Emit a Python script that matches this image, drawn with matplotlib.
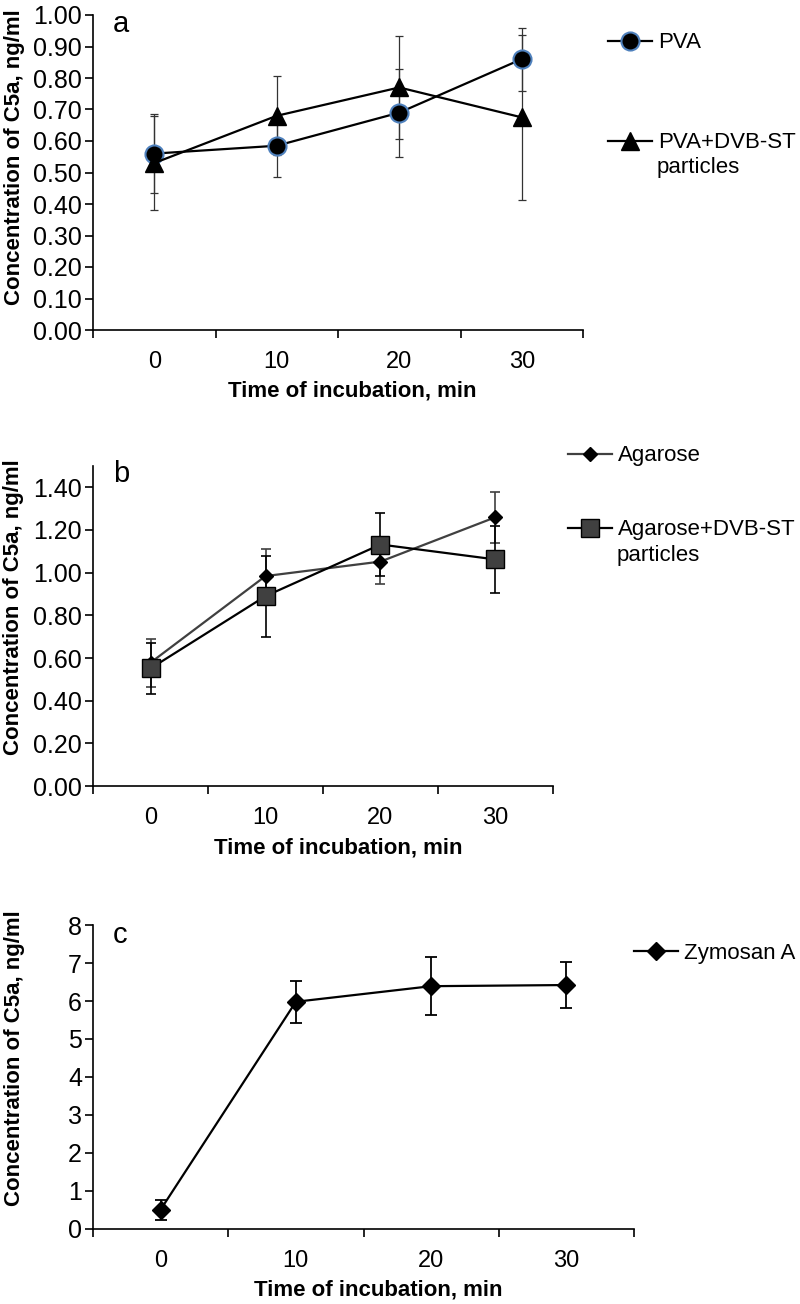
import matplotlib.pyplot as plt
import numpy as np

plt.rcParams['font.family'] = ['Liberation Sans', 'DejaVu Sans']

# data
times = ['0', '10', '20', '30']

pva = [0.56, 0.585, 0.69, 0.86]
pva_err = [0.125, 0.098, 0.14, 0.10]
pva_dvb = [0.53, 0.68, 0.77, 0.675]
pva_dvb_err = [0.15, 0.125, 0.163, 0.262]

agarose = [0.578, 0.984, 1.052, 1.26]
agarose_err = [0.112, 0.125, 0.105, 0.12]
agarose_dvb = [0.551, 0.89, 1.132, 1.062]
agarose_dvb_err = [0.12, 0.19, 0.148, 0.157]

zymosan = [0.51, 5.98, 6.39, 6.42]
zymosan_err = [0.26, 0.55, 0.77, 0.60]

W, H = 800, 1304
fig = plt.figure(figsize=(W / 100, H / 100), dpi=100)


def px_axes(left, right, top, bottom):
    return fig.add_axes([left / W, 1 - bottom / H, (right - left) / W, (bottom - top) / H])


def style_axes(ax, ylim, yticks, fmt, ylab_x, ylab_y):
    x = np.arange(len(times))
    ax.set_xlim(-0.5, len(times) - 0.5)
    ax.set_ylim(*ylim)
    ax.set_yticks(yticks)
    ax.set_yticklabels([fmt % v for v in yticks])
    ax.set_xticks(x)
    ax.set_xticklabels(times)
    ax.set_xticks(np.arange(len(times) + 1) - 0.5, minor=True)
    ax.tick_params(axis='x', which='major', length=0, pad=15, labelsize=17)
    ax.tick_params(axis='x', which='minor', length=6, width=1.2, direction='out')
    ax.tick_params(axis='y', length=6, width=1.2, pad=2, labelsize=18)
    for s in ['top', 'right']:
        ax.spines[s].set_visible(False)
    for s in ['left', 'bottom']:
        ax.spines[s].set_linewidth(1.2)
    ax.set_xlabel('Time of incubation, min', fontsize=16, fontweight='bold')
    ax.xaxis.label.set_va('center')
    ax.set_ylabel('Concentration of C5a, ng/ml', fontsize=16, fontweight='bold')
    ax.yaxis.label.set_va('center')
    ax.yaxis.set_label_coords(ylab_x, ylab_y)
    return x


def add_entry(handle, label, x_px, y_px, extra=None):
    leg = fig.legend([handle], [label], loc='center left',
                     bbox_to_anchor=(x_px / W, 1 - y_px / H), frameon=False,
                     borderpad=0, borderaxespad=0, handlelength=2.0,
                     handletextpad=0.25, fontsize=16)
    if extra:
        # second line of the label, under the first one
        fig.text((x_px + 49) / W, 1 - (y_px + 25) / H, extra, fontsize=16,
                 ha='left', va='center')
    return leg


# panel a
ax = px_axes(93, 583, 15, 330)
x = style_axes(ax, (0, 1.0), np.arange(0, 1.01, 0.1), '%.2f', -0.161, 0.549)
ax.xaxis.set_label_coords(0.529, -61 / 315)
ax.errorbar(x, pva, yerr=pva_err, fmt='none', ecolor='#333333', elinewidth=0.9,
            capsize=3.2, capthick=0.9, zorder=2)
ax.errorbar(x, pva_dvb, yerr=pva_dvb_err, fmt='none', ecolor='#333333', elinewidth=0.9,
            capsize=3.2, capthick=0.9, zorder=2)
h_pva, = ax.plot(x, pva, color='black', lw=1.6, marker='o', ms=13,
                 mfc='black', mec='#4F81BD', mew=1.5, zorder=3)
h_pvad, = ax.plot(x, pva_dvb, color='black', lw=1.6, marker='^', ms=13,
                  mfc='black', mec='black', zorder=3)
ax.text(0.041, 0.947, 'a', transform=ax.transAxes, fontsize=21, ha='left', va='baseline')
add_entry(h_pva, 'PVA', 608, 43)
add_entry(h_pvad, 'PVA+DVB-ST', 608, 143, 'particles')

# panel b
ax = px_axes(93, 553, 466, 786)
x = style_axes(ax, (0, 1.5), np.arange(0, 1.41, 0.2), '%.2f', -0.172, 0.559)
ax.xaxis.set_label_coords(0.533, -62 / 320)
ax.errorbar(x, agarose, yerr=agarose_err, fmt='none', ecolor='#404040', elinewidth=1.2,
            capsize=3.6, capthick=1.2, zorder=2)
ax.errorbar(x, agarose_dvb, yerr=agarose_dvb_err, fmt='none', ecolor='black', elinewidth=1.2,
            capsize=3.6, capthick=1.2, zorder=2)
h_ag, = ax.plot(x, agarose, color='#404040', lw=1.6, marker='D', ms=7,
                mfc='black', mec='black', zorder=3)
h_agd, = ax.plot(x, agarose_dvb, color='black', lw=1.6, marker='s', ms=12.5,
                 mfc='#404040', mec='black', mew=1.0, zorder=4)
ax.text(0.043, 0.951, 'b', transform=ax.transAxes, fontsize=21, ha='left', va='baseline')
add_entry(h_ag, 'Agarose', 568, 456)
add_entry(h_agd, 'Agarose+DVB-ST', 568, 530, 'particles')

# panel c
ax = px_axes(93, 634, 925, 1229)
x = style_axes(ax, (0, 8), np.arange(0, 9, 1), '%d', -0.146, 0.561)
ax.xaxis.set_label_coords(0.527, -61 / 304)
ax.errorbar(x, zymosan, yerr=zymosan_err, fmt='none', ecolor='black', elinewidth=1.3,
            capsize=4.2, capthick=1.3, zorder=2)
h_zy, = ax.plot(x, zymosan, color='black', lw=1.6, marker='D', ms=9,
                mfc='black', mec='black', zorder=3)
ax.text(0.037, 0.94, 'c', transform=ax.transAxes, fontsize=21, ha='left', va='baseline')
add_entry(h_zy, 'Zymosan A', 634, 953)

fig.savefig('out.png', dpi=100)
